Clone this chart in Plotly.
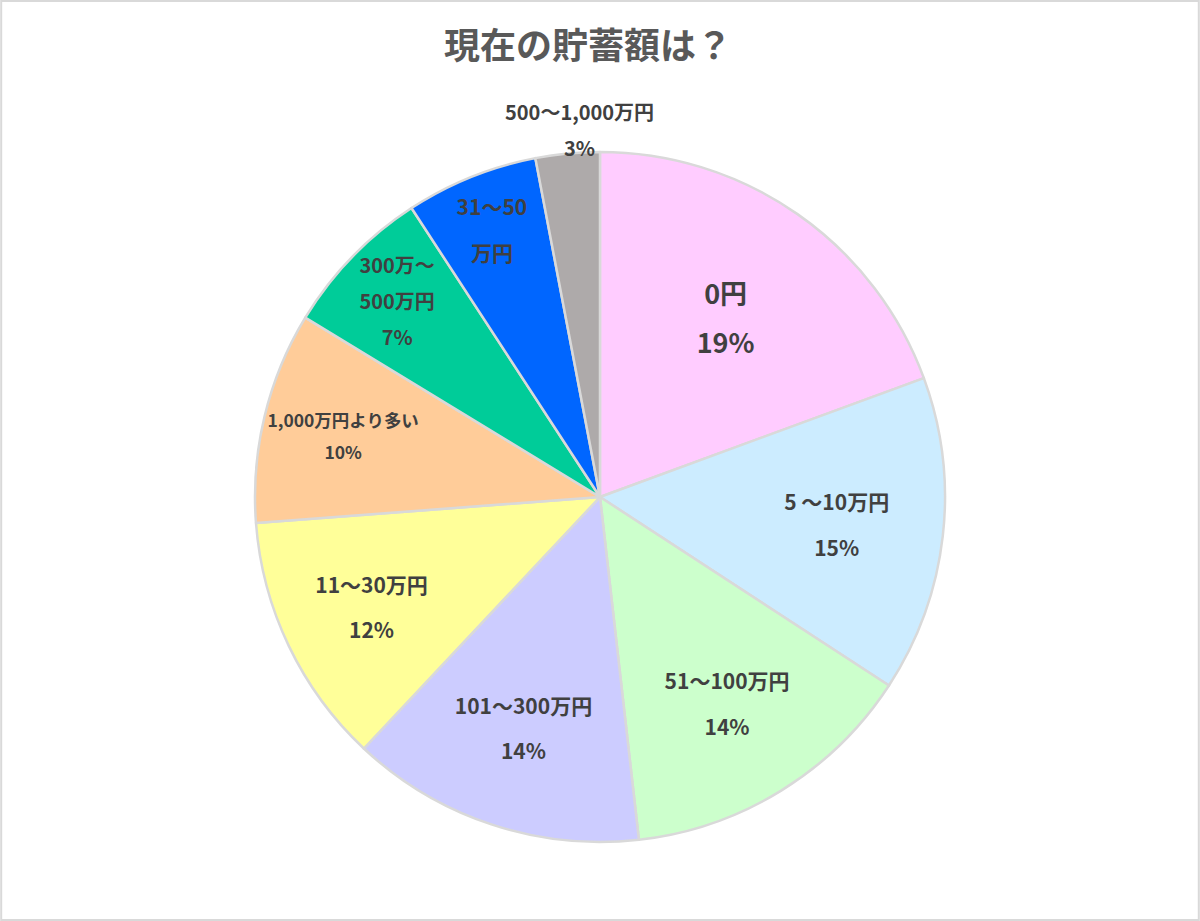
import math
import plotly.graph_objects as go

# Savings amount categories (clockwise from 12 o'clock)
labels = ["0円", "5～10万円", "51～100万円", "101～300万円", "11～30万円",
          "1,000万円より多い", "300万～500万円", "31～50万円", "500～1,000万円"]
label_lines = [["0円"], ["5 ～10万円"], ["51～100万円"], ["101～300万円"], ["11～30万円"],
               ["1,000万円より多い"], ["300万～", "500万円"], ["31～50", "万円"], ["500～1,000万円"]]
shares = [19.4, 14.8, 14.0, 13.8, 11.8, 9.9, 7.1, 6.2, 3.0]
show_pct = [True, True, True, True, True, True, True, False, True]
colors = ["#FFCCFF", "#CCECFF", "#CCFFCC", "#CCCCFF", "#FFFF99",
          "#FFCC99", "#00CC99", "#0066FF", "#AEAAAA"]

W, H = 1200, 921
cx, cy, rad = 600, 497, 345
label_color = "#404040"


def make_label(lines, size):
    # each line in its own span so the glyph size is independent of the line spacing
    return "<br>".join(f"<span style='font-size:{size}px'>{s}</span>" for s in lines)


total = sum(shares)
texts = []
spacing_sizes = []
for i, v in enumerate(shares):
    lines = list(label_lines[i])
    if show_pct[i]:
        lines.append(f"{round(v / total * 100)}%")
    size = 27 if i == 0 else 21
    # base font size only sets the gap between lines
    if i == 0:
        spacing_sizes.append(38)
    elif len(lines) > 2 or i == 5:
        spacing_sizes.append(29)
    else:
        spacing_sizes.append(35)
    texts.append(make_label(lines, size))

fig = go.Figure()
fig.add_trace(go.Pie(
    labels=labels,
    values=shares,
    text=texts,
    textinfo="text",
    textposition="inside",
    insidetextorientation="horizontal",
    # last (smallest) slice is labelled above the pie instead
    texttemplate=["%{text}"] * (len(shares) - 1) + [""],
    textfont=dict(size=spacing_sizes, color=label_color, family="Noto Sans CJK JP", weight="bold"),
    marker=dict(colors=colors, line=dict(color="#D9D9D9", width=2.5)),
    sort=False,
    direction="clockwise",
    rotation=0,
    showlegend=False,
    hoverinfo="label+percent",
    domain=dict(x=[(cx - rad) / W, (cx + rad) / W],
                y=[1 - (cy + rad) / H, 1 - (cy - rad) / H]),
))

# position of the outside label from the mid angle of the last slice
mid = (sum(shares[:-1]) + shares[-1] / 2) / total * 2 * math.pi
ox = cx + math.sin(mid) * rad + 12
oy = cy - math.cos(mid) * rad + 10
fig.add_annotation(
    x=ox / W, y=1 - oy / H, xref="paper", yref="paper",
    xanchor="center", yanchor="bottom", showarrow=False,
    text=make_label([label_lines[-1][0], f"{round(shares[-1] / total * 100)}%"], 20),
    font=dict(size=28, color=label_color, family="Noto Sans CJK JP", weight="bold"),
)

fig.update_layout(
    width=W, height=H,
    margin=dict(l=0, r=0, t=0, b=0),
    paper_bgcolor="white",
    font=dict(family="Noto Sans CJK JP", color=label_color),
    title=dict(text="現在の貯蓄額は？", x=0.49, y=1 - 46 / H, xanchor="center", yanchor="middle",
               font=dict(size=36, color="#595959", family="Noto Sans CJK JP", weight="bold")),
    shapes=[dict(type="rect", xref="paper", yref="paper", x0=0.001, x1=0.999, y0=0.001, y1=0.999,
                 line=dict(color="#D9D9D9", width=2))],
)

# drop the default page margin so the figure sits at the window corner
fig.write_html("out.html", config={"displayModeBar": False},
               post_script="document.body.style.margin='0';")
